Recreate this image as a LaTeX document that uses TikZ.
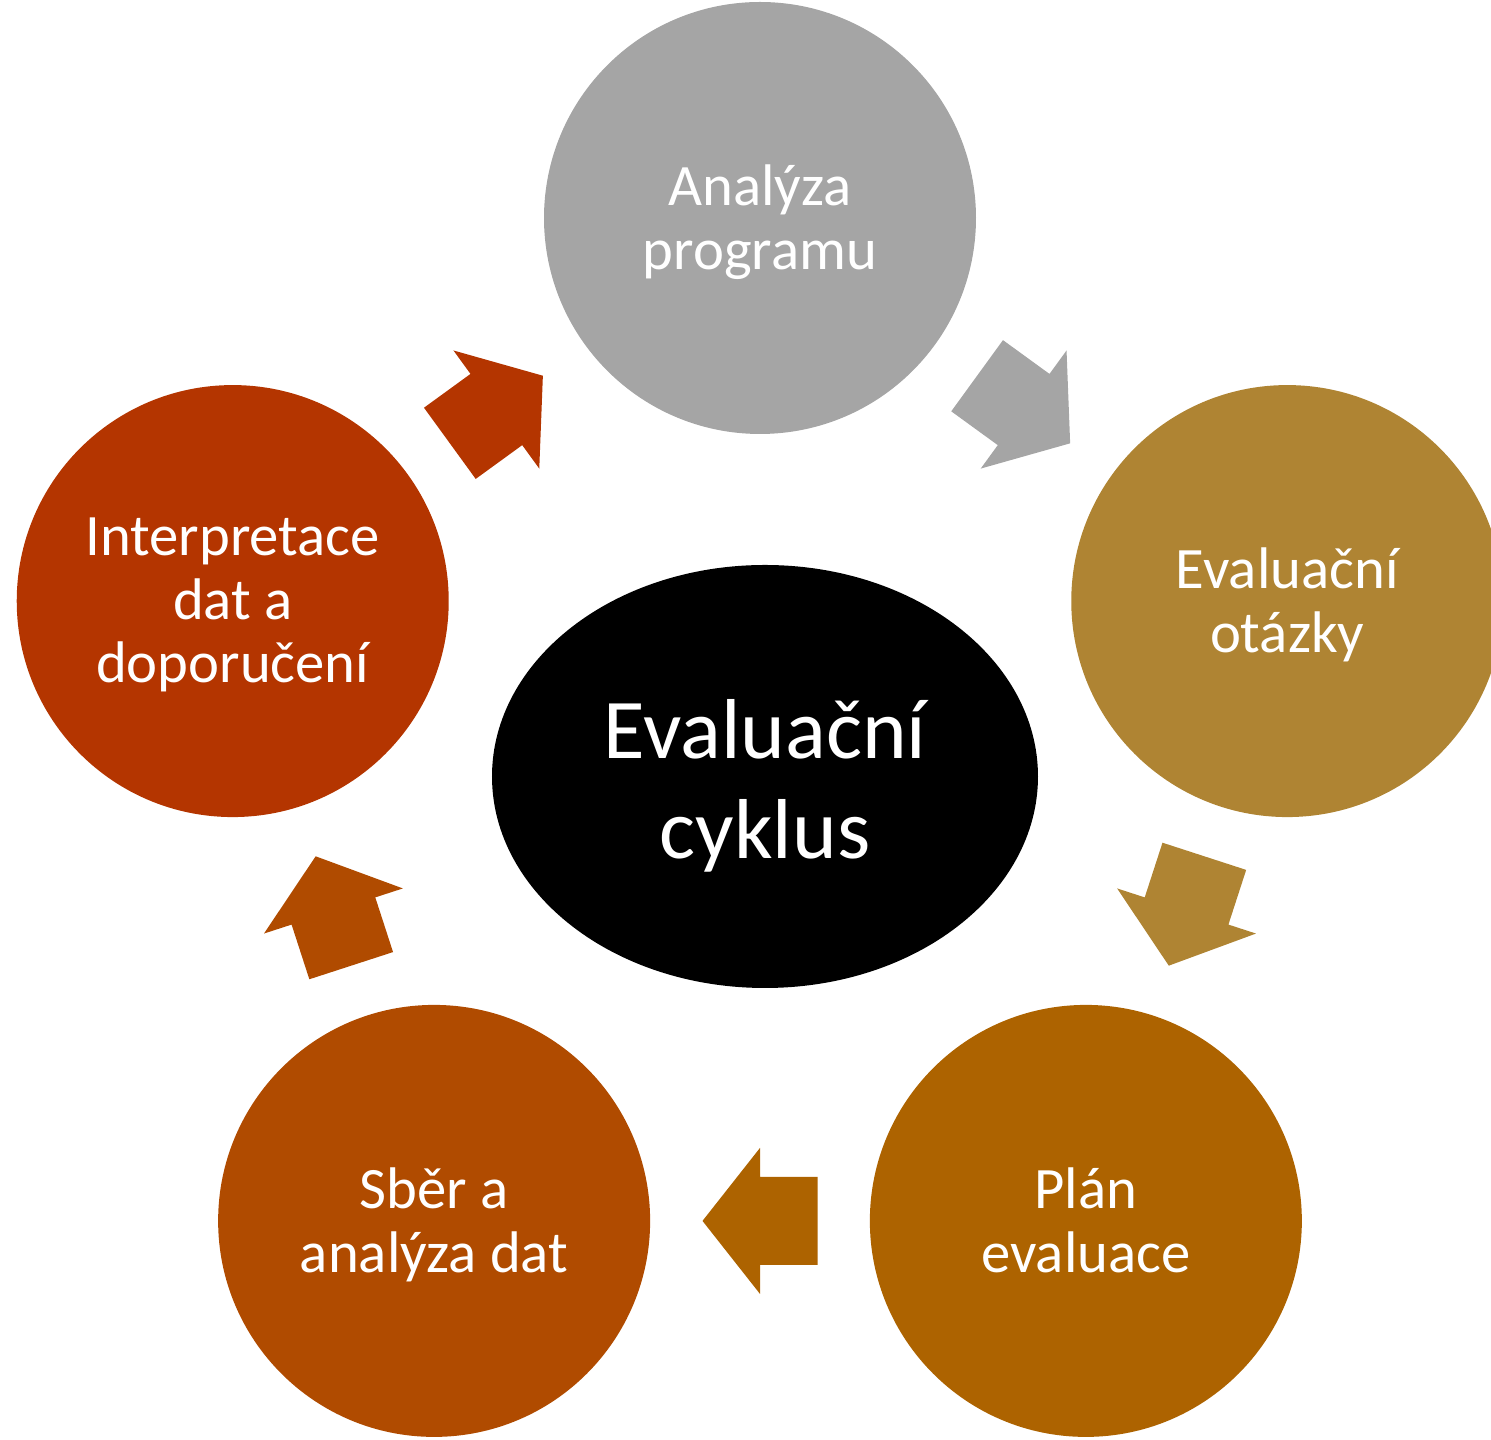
\documentclass[tikz,border=0pt]{standalone}
\usepackage{fontspec}
\setmainfont{Carlito}
\usetikzlibrary{shapes.geometric}
\usetikzlibrary{calc}

\definecolor{stepgray}{HTML}{A5A5A5}
\definecolor{stepgold}{HTML}{AF8433}
\definecolor{stepochre}{HTML}{AD6300}
\definecolor{steprust}{HTML}{B04B00}
\definecolor{stepred}{HTML}{B43500}

\tikzset{
	textstrut/.style={ execute at end node={\rule[-0.2em]{0pt}{0pt}} },
	stagetext/.style={ text=white, align=center, inner sep=0, textstrut, yshift=-0.05cm, font=\fontsize{16.7}{18.2}\selectfont },
	hubtext/.style={ text=white, align=center, inner sep=0, textstrut, yshift=-0.11cm, font=\fontsize{24.2}{28.4}\selectfont },
	stage/.style={ circle, inner sep=0, minimum size=4.32cm, label={[stagetext]center:#1} },
	hub/.style={ ellipse, inner sep=0, minimum width=5.46cm, minimum height=4.23cm, fill=black, label={[hubtext]center:#1} },
	blockarrow/.pic={
		\fill[ pic actions ] (-0.575, -0.44) -- (0, -0.44) -- (0, -0.73) -- (0.575, 0) -- (0, 0.73) -- (0, 0.44) -- (-0.575, 0.44) -- cycle;
	}
}

\begin{document}
\begin{tikzpicture}

	\def\cx{7.60}
	\def\cy{6.676}
	\def\R{5.544}

	\clip (0, 0) rectangle (14.91, 14.40);

	\node[ stage={Analýza\\programu}, fill=stepgray ] (analyza) at ($(\cx, \cy)+(90:\R)$) {};
	\node[ stage={Evaluační\\otázky}, fill=stepgold ] (otazky) at ($(\cx, \cy)+(18:\R)$) {};
	\node[ stage={Plán\\evaluace}, fill=stepochre ] (plan) at ($(\cx, \cy)+(-54:\R)$) {};
	\node[ stage={Sběr a\\analýza dat}, fill=steprust ] (sber) at ($(\cx, \cy)+(-126:\R)$) {};
	\node[ stage={Interpretace\\dat a\\doporučení}, fill=stepred ] (interpretace) at ($(\cx, \cy)+(162:\R)$) {};

	\node[ hub={Evaluační\\cyklus} ] (cyklus) at (7.65, 6.635) {};

	\path ($(analyza)!0.5!(otazky)$) pic[ rotate=-36, fill=stepgray ] {blockarrow};
	\path ($(otazky)!0.5!(plan)$) pic[ rotate=-108, fill=stepgold ] {blockarrow};
	\path ($(plan)!0.5!(sber)$) pic[ rotate=180, fill=stepochre ] {blockarrow};
	\path ($(sber)!0.5!(interpretace)$) pic[ rotate=108, fill=steprust ] {blockarrow};
	\path ($(interpretace)!0.5!(analyza)$) pic[ rotate=36, fill=stepred ] {blockarrow};

\end{tikzpicture}
\end{document}
